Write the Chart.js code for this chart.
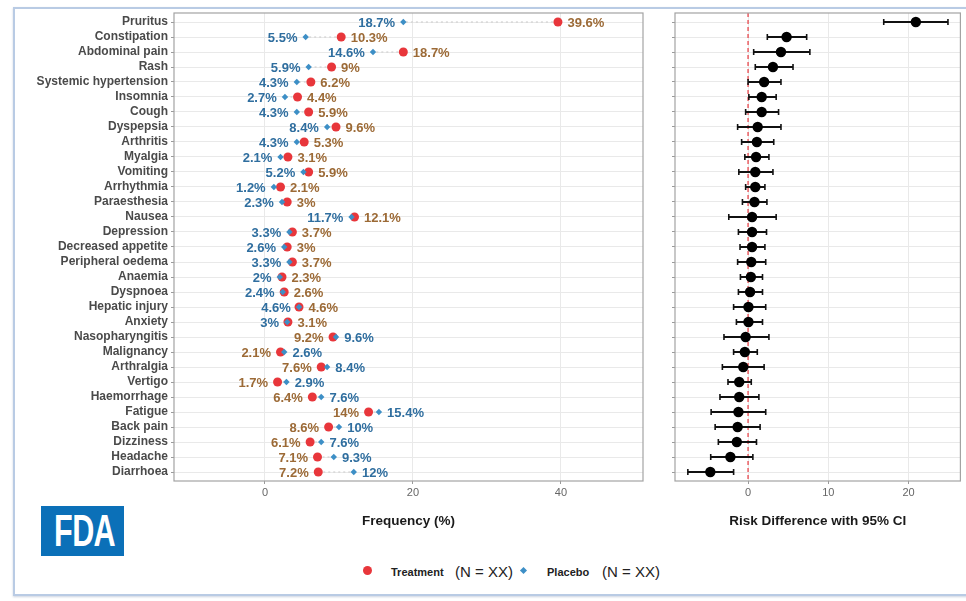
<!DOCTYPE html>
<html>
<head>
<meta charset="utf-8">
<script src="https://cdn.jsdelivr.net/npm/chart.js@4.4.1/dist/chart.umd.min.js"></script>
<style>
  html, body { margin: 0; padding: 0; background: #fff; }
  body { width: 966px; height: 601px; position: relative; overflow: hidden;
         font-family: "Liberation Sans", Arial, sans-serif; }
  #frame { position: absolute; left: 13px; top: 7px; width: 980px; height: 585px;
           border: 2px solid #b9cbe4; box-shadow: 0 1px 2px rgba(110,130,165,0.35); }
  canvas { position: absolute; top: 0; }
  #left { left: 0; }
  #right { left: 660px; }
  #logo { position: absolute; left: 41px; top: 506px; width: 83px; height: 50px;
          background: #0b70b8; overflow: hidden; }
  #logo span { position: absolute; left: 0; top: 0; width: 83px; text-align: center;
               color: #fff; font-weight: bold; font-size: 45px; line-height: 50px;
               letter-spacing: -1px; transform: scaleX(0.68); transform-origin: 41px 25px; }
  .lg { position: absolute; top: 562px; height: 20px; line-height: 20px; white-space: nowrap; color: #222; }
  .lg.key { font-weight: bold; font-size: 11px; }
  .lg.n { font-size: 15px; }
  #dotT { position: absolute; left: 363px; top: 566px; width: 9px; height: 9px;
          border-radius: 50%; background: #e8363b; }
  #dotP { position: absolute; left: 521px; top: 568px; width: 5px; height: 5px;
          background: #3d8fc6; transform: rotate(45deg); }
</style>
</head>
<body>
<div id="frame"></div>
<canvas id="left" width="660" height="540"></canvas>
<canvas id="right" width="306" height="540"></canvas>
<div id="logo"><span>FDA</span></div>
<div id="dotT"></div>
<div class="lg key" style="left:391px">Treatment</div>
<div class="lg n" style="left:455px">(N = XX)</div>
<div id="dotP"></div>
<div class="lg key" style="left:547px">Placebo</div>
<div class="lg n" style="left:602px">(N = XX)</div>

<script>
// Adverse events, top to bottom
const categories = [
  'Pruritus', 'Constipation', 'Abdominal pain', 'Rash', 'Systemic hypertension',
  'Insomnia', 'Cough', 'Dyspepsia', 'Arthritis', 'Myalgia', 'Vomiting',
  'Arrhythmia', 'Paraesthesia', 'Nausea', 'Depression', 'Decreased appetite',
  'Peripheral oedema', 'Anaemia', 'Dyspnoea', 'Hepatic injury', 'Anxiety',
  'Nasopharyngitis', 'Malignancy', 'Arthralgia', 'Vertigo', 'Haemorrhage',
  'Fatigue', 'Back pain', 'Dizziness', 'Headache', 'Diarrhoea'
];

// Frequency (%) per arm
const treatment = [39.6, 10.3, 18.7, 9, 6.2, 4.4, 5.9, 9.6, 5.3, 3.1, 5.9,
                   2.1, 3, 12.1, 3.7, 3, 3.7, 2.3, 2.6, 4.6, 3.1,
                   9.2, 2.1, 7.6, 1.7, 6.4, 14, 8.6, 6.1, 7.1, 7.2];
const placebo   = [18.7, 5.5, 14.6, 5.9, 4.3, 2.7, 4.3, 8.4, 4.3, 2.1, 5.2,
                   1.2, 2.3, 11.7, 3.3, 2.6, 3.3, 2, 2.4, 4.6, 3,
                   9.6, 2.6, 8.4, 2.9, 7.6, 15.4, 10, 7.6, 9.3, 12];

// Risk difference (treatment - placebo) with 95% CI
const riskDiff = [20.9, 4.8, 4.1, 3.1, 2.0, 1.7, 1.7, 1.2, 1.1, 1.0, 0.9,
                  0.9, 0.8, 0.5, 0.5, 0.5, 0.4, 0.35, 0.25, 0.05, 0.05,
                  -0.3, -0.4, -0.6, -1.1, -1.1, -1.2, -1.3, -1.4, -2.2, -4.7];
const ciLower  = [16.9, 2.4, 0.7, 0.9, 0.0, 0.1, -0.3, -1.3, -0.8, -0.4, -1.15,
                  -0.3, -0.7, -2.4, -1.2, -1.0, -1.3, -0.95, -1.2, -1.8, -1.45,
                  -3.0, -1.8, -3.2, -2.5, -3.5, -4.6, -4.1, -3.7, -4.65, -7.5];
const ciUpper  = [24.9, 7.3, 7.7, 5.6, 4.1, 3.5, 3.8, 4.1, 3.2, 2.6, 3.1,
                  2.1, 2.35, 3.5, 2.3, 2.1, 2.2, 1.8, 1.8, 2.2, 1.8,
                  2.6, 1.15, 2.0, 0.4, 1.35, 2.2, 1.5, 1.05, 0.6, -1.8];

// Axis ticks
const freqTicks = [0, 20, 40];
const diffTicks = [0, 10, 20];
const NO_DIFFERENCE = 0;

// ---- styling ----
const FONT = '"Liberation Sans", Arial, sans-serif';
const TREAT_COLOR = '#e8363b';
const PLACEBO_COLOR = '#3d8fc6';
const TREAT_TEXT = '#9c6a36';
const PLACEBO_TEXT = '#2f6e9f';
const TREAT_R = 4.5;
const PLACEBO_R = 3.2;
const GRID = '#e9e9e9';
const ROW_MIN = -0.6, ROW_MAX = categories.length - 1 + 0.6;

Chart.defaults.font.family = FONT;

const rowIdx = categories.map((_, i) => i);
const fixedTicks = values => scale => { scale.ticks = values.map(v => ({ value: v })); };

// one line dataset holding several segments, separated by null points
function segments(a, b) {
  const pts = [];
  rowIdx.forEach(i => {
    pts.push({ x: a[i], y: i }, { x: b[i], y: i }, { x: null, y: null });
  });
  return pts;
}

const panelFrame = {
  id: 'panelFrame',
  afterDraw(chart) {
    const { ctx, chartArea: a } = chart;
    ctx.save();
    ctx.strokeStyle = '#a3a3a3';
    ctx.lineWidth = 1.2;
    ctx.strokeRect(a.left, a.top, a.right - a.left, a.bottom - a.top);
    ctx.restore();
  }
};

const fmt = v => v + '%';

// percentage labels either side of each pair of markers
const valueLabels = {
  id: 'valueLabels',
  afterDatasetsDraw(chart) {
    const { ctx, scales: { x, y } } = chart;
    ctx.save();
    ctx.font = 'bold 13px ' + FONT;
    ctx.textBaseline = 'middle';
    rowIdx.forEach(i => {
      const py = y.getPixelForValue(i) + 1;
      const p = { v: placebo[i], color: PLACEBO_TEXT, r: PLACEBO_R };
      const t = { v: treatment[i], color: TREAT_TEXT, r: TREAT_R };
      const [lo, hi] = placebo[i] <= treatment[i] ? [p, t] : [t, p];
      ctx.fillStyle = lo.color;
      ctx.textAlign = 'right';
      ctx.fillText(fmt(lo.v), x.getPixelForValue(lo.v) - lo.r - 5, py);
      ctx.fillStyle = hi.color;
      ctx.textAlign = 'left';
      ctx.fillText(fmt(hi.v), x.getPixelForValue(hi.v) + hi.r + 5, py);
    });
    ctx.restore();
  }
};

function rowAxis(width, showLabels) {
  return {
    type: 'linear', reverse: true, min: ROW_MIN, max: ROW_MAX,
    afterBuildTicks: fixedTicks(rowIdx),
    afterFit: s => { s.width = width; },
    grid: { color: GRID, tickColor: '#9a9a9a', tickLength: 3, lineWidth: 1 },
    border: { display: false },
    ticks: {
      autoSkip: false, padding: 3,
      callback: v => showLabels ? categories[v] : '',
      font: { size: 12, weight: 'bold' }, color: '#4a4a4a'
    }
  };
}

function valueAxis(min, max, ticks, title) {
  return {
    type: 'linear', min, max,
    afterBuildTicks: fixedTicks(ticks),
    afterFit: s => { s.height = 59; },
    grid: { color: GRID, tickColor: '#9a9a9a', tickLength: 3, lineWidth: 1 },
    border: { display: false },
    ticks: { font: { size: 11 }, color: '#666', padding: 2 },
    title: {
      display: true, text: title, color: '#1a1a1a',
      font: { size: 13.5, weight: 'bold' }, padding: { top: 0, bottom: 11 }
    }
  };
}

const common = {
  responsive: false, animation: false, events: [],
  plugins: { legend: { display: false }, tooltip: { enabled: false } }
};

// Frequency panel
new Chart(document.getElementById('left'), {
  type: 'scatter',
  data: {
    datasets: [
      { type: 'line', data: segments(treatment, placebo), borderColor: '#c9c9c9',
        borderWidth: 1, borderDash: [2, 3], pointRadius: 0, spanGaps: false, order: 3 },
      { label: 'Treatment', data: rowIdx.map(i => ({ x: treatment[i], y: i })),
        pointStyle: 'circle', pointRadius: TREAT_R, backgroundColor: TREAT_COLOR,
        borderWidth: 0, order: 2 },
      { label: 'Placebo', data: rowIdx.map(i => ({ x: placebo[i], y: i })),
        pointStyle: 'rectRot', pointRadius: PLACEBO_R, backgroundColor: PLACEBO_COLOR,
        borderWidth: 0, order: 1 }
    ]
  },
  options: {
    ...common,
    layout: { padding: { left: 0, top: 13, right: 17, bottom: 0 } },
    scales: {
      x: valueAxis(-12.3, 51.1, freqTicks, 'Frequency (%)'),
      y: rowAxis(174, true)
    }
  },
  plugins: [panelFrame, valueLabels]
});

// Risk difference panel
new Chart(document.getElementById('right'), {
  type: 'scatter',
  data: {
    datasets: [
      { type: 'line', data: [{ x: NO_DIFFERENCE, y: ROW_MIN }, { x: NO_DIFFERENCE, y: ROW_MAX }],
        borderColor: '#e8474c', borderWidth: 1.3, borderDash: [4, 3], pointRadius: 0, order: 4 },
      { type: 'line', data: segments(ciLower, ciUpper), borderColor: '#111',
        borderWidth: 2, pointRadius: 0, spanGaps: false, order: 3 },
      { data: rowIdx.flatMap(i => [{ x: ciLower[i], y: i }, { x: ciUpper[i], y: i }]),
        pointStyle: 'line', rotation: 90, pointRadius: 3, borderColor: '#111',
        borderWidth: 1.6, order: 2 },
      { data: rowIdx.map(i => ({ x: riskDiff[i], y: i })), pointStyle: 'circle',
        pointRadius: 5.2, backgroundColor: '#000', borderWidth: 0, order: 1 }
    ]
  },
  options: {
    ...common,
    layout: { padding: { left: 0, top: 13, right: 4, bottom: 0 } },
    scales: {
      x: valueAxis(-9.1, 26.45, diffTicks, 'Risk Difference with 95% CI'),
      y: rowAxis(15, false)
    }
  },
  plugins: [panelFrame]
});
</script>
</body>
</html>
